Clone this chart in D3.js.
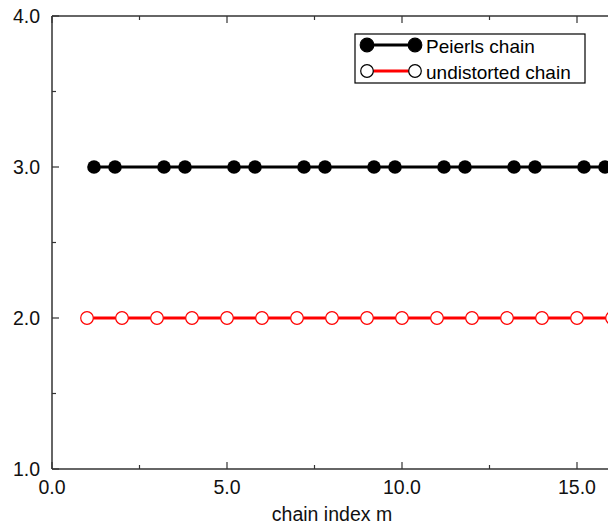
<!DOCTYPE html>
<html>
<head>
<meta charset="utf-8">
<script src="https://cdn.jsdelivr.net/npm/d3@7"></script>
<style>
  body { margin: 0; background: #fff; }
  svg { font-family: "Liberation Sans", Arial, sans-serif; }
</style>
</head>
<body>
<svg id="chart" width="608" height="527"></svg>
<script>
// chain data
const peierlsX = [1.2, 1.8, 3.2, 3.8, 5.2, 5.8, 7.2, 7.8, 9.2, 9.8, 11.2, 11.8, 13.2, 13.8, 15.2, 15.8];
const peierlsY = 3.0;
const undistortedX = [1, 2, 3, 4, 5, 6, 7, 8, 9, 10, 11, 12, 13, 14, 15, 16];
const undistortedY = 2.0;
const xTicks = [0, 5, 10, 15];
const yTicks = [1, 2, 3, 4];
const seriesNames = ["Peierls chain", "undistorted chain"];

const svg = d3.select("#chart");
const margin = { top: 16, left: 52, bottom: 58 };
const x = d3.scaleLinear().domain([0, 16]).range([margin.left, 612]);
const y = d3.scaleLinear().domain([1, 4]).range([469, margin.top]);

const axisColor = "#333";
const fontSize = 19.5;

// frame
const frame = svg.append("g").attr("stroke", axisColor).attr("stroke-width", 1.5);
frame.append("line").attr("x1", x(0)).attr("x2", x(16)).attr("y1", y(1)).attr("y2", y(1));
frame.append("line").attr("x1", x(0)).attr("x2", x(16)).attr("y1", y(4)).attr("y2", y(4));
frame.append("line").attr("x1", x(0)).attr("x2", x(0)).attr("y1", y(1)).attr("y2", y(4));

// ticks (inward), major + minor
const xMinor = d3.range(0, 16.01, 2.5);
const yMinor = d3.range(1, 4.01, 0.5);
const tickG = svg.append("g").attr("stroke", axisColor).attr("stroke-width", 1.2);
xMinor.forEach(v => {
  const len = xTicks.includes(v) ? 7 : 4;
  tickG.append("line").attr("x1", x(v)).attr("x2", x(v)).attr("y1", y(1)).attr("y2", y(1) - len);
  tickG.append("line").attr("x1", x(v)).attr("x2", x(v)).attr("y1", y(4)).attr("y2", y(4) + len);
});
yMinor.forEach(v => {
  const len = yTicks.includes(v) ? 7 : 4;
  tickG.append("line").attr("x1", x(0)).attr("x2", x(0) + len).attr("y1", y(v)).attr("y2", y(v));
});

// tick labels
svg.append("g").selectAll("text").data(xTicks).join("text")
  .attr("x", d => x(d)).attr("y", 494)
  .attr("text-anchor", "middle").attr("font-size", fontSize).attr("fill", "#111")
  .text(d => d3.format(".1f")(d));
svg.append("g").selectAll("text").data(yTicks).join("text")
  .attr("x", 40).attr("y", d => y(d) + 7)
  .attr("text-anchor", "end").attr("font-size", fontSize).attr("fill", "#111")
  .text(d => d3.format(".1f")(d));

svg.append("text")
  .attr("x", (x(0) + x(16)) / 2).attr("y", 521)
  .attr("text-anchor", "middle").attr("font-size", fontSize).attr("fill", "#111")
  .text("chain index m");

// series
const line = d3.line().x(d => x(d[0])).y(d => y(d[1]));
const undist = undistortedX.map(v => [v, undistortedY]);
const peierls = peierlsX.map(v => [v, peierlsY]);

svg.append("path").datum([[undistortedX[0], undistortedY], [16, undistortedY]])
  .attr("d", line).attr("stroke", "#ff0000").attr("stroke-width", 3).attr("fill", "none");
svg.append("g").selectAll("circle").data(undist).join("circle")
  .attr("cx", d => x(d[0])).attr("cy", d => y(d[1])).attr("r", 6.3)
  .attr("fill", "#fff").attr("stroke", "#ff0000").attr("stroke-width", 1.2);

svg.append("path").datum([[peierlsX[0], peierlsY], [16, peierlsY]])
  .attr("d", line).attr("stroke", "#000").attr("stroke-width", 3).attr("fill", "none");
svg.append("g").selectAll("circle").data(peierls).join("circle")
  .attr("cx", d => x(d[0])).attr("cy", d => y(d[1])).attr("r", 6.8)
  .attr("fill", "#000");

// legend
const lg = svg.append("g");
lg.append("rect").attr("x", 355).attr("y", 34).attr("width", 230).attr("height", 49)
  .attr("fill", "#fff").attr("stroke", "#000").attr("stroke-width", 1.2);
const rows = [
  { name: seriesNames[0], color: "#000", fill: "#000", r: 6.8, y: 45 },
  { name: seriesNames[1], color: "#ff0000", fill: "#fff", r: 6.3, y: 71 }
];
rows.forEach(r => {
  lg.append("line").attr("x1", 367).attr("x2", 415).attr("y1", r.y).attr("y2", r.y)
    .attr("stroke", r.color).attr("stroke-width", 3);
  [367, 415].forEach(cx => {
    lg.append("circle").attr("cx", cx).attr("cy", r.y).attr("r", r.r)
      .attr("fill", r.fill).attr("stroke", "#000").attr("stroke-width", 1.2);
  });
  lg.append("text").attr("x", 426).attr("y", r.y + 8).attr("font-size", 19).attr("fill", "#000")
    .text(r.name);
});
</script>
</body>
</html>
